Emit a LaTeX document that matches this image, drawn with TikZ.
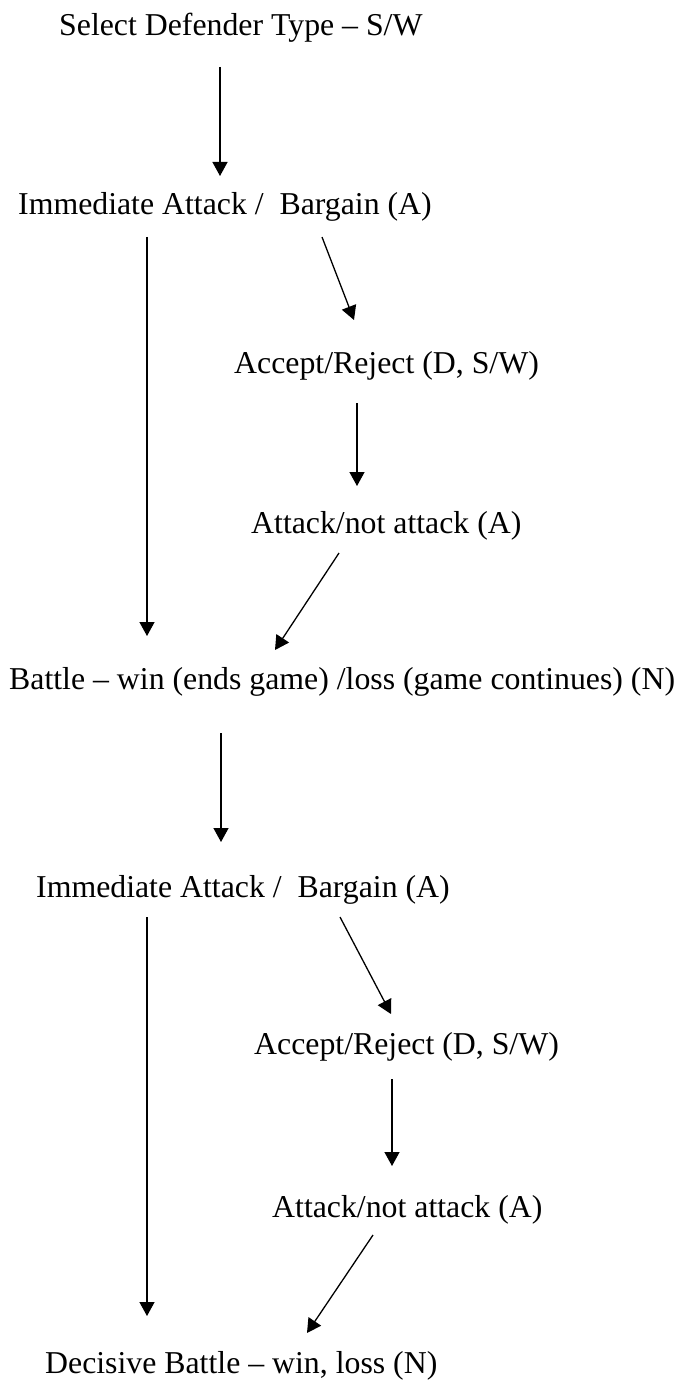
\documentclass[tikz,border=0pt]{standalone}
\usepackage{fontspec}
\setmainfont{Liberation Serif}
\usetikzlibrary{arrows.meta,calc}
\begin{document}
\begin{tikzpicture}[x=1pt,y=-1pt,
  lbl/.style={anchor=base west, inner sep=0pt, font=\fontsize{31.8}{38}\selectfont},
  arr/.style={line width=1.3pt, -{Triangle[length=14pt,width=15pt]}}]
\useasboundingbox[fill=white] (0,0) rectangle (685,1380);
% nodes
\node[lbl] (sel)  at (59,36)    {Select Defender Type – S/W};
\node[lbl] (imm1) at (18,215)   {Immediate Attack / \ Bargain (A)};
\node[lbl] (acc1) at (234,373)  {Accept/Reject (D, S/W)};
\node[lbl] (att1) at (251,533)  {Attack/not attack (A)};
\node[lbl] (bat)  at (9,689)    {Battle – win (ends game) /loss (game continues) (N)};
\node[lbl] (imm2) at (36,897)   {Immediate Attack / \ Bargain (A)};
\node[lbl] (acc2) at (254,1054) {Accept/Reject (D, S/W)};
\node[lbl] (att2) at (272,1217) {Attack/not attack (A)};
\node[lbl] (dec)  at (45,1373)  {Decisive Battle – win, loss (N)};
% connectors
\draw[arr] ($(sel.base west)+(161,31)$)  -- ($(imm1.base west)+(202,-39)$);
\draw[arr] ($(imm1.base west)+(129,22)$) -- ($(bat.base west)+(138,-53)$);
\draw[arr] ($(imm1.base west)+(304,22)$) -- ($(acc1.base west)+(120,-53)$);
\draw[arr] ($(acc1.base west)+(123,30)$) -- ($(att1.base west)+(106,-47)$);
\draw[arr] ($(att1.base west)+(88,20)$)  -- ($(bat.base west)+(266,-39)$);
\draw[arr] ($(bat.base west)+(212,44)$)  -- ($(imm2.base west)+(185,-55)$);
\draw[arr] ($(imm2.base west)+(111,20)$) -- ($(dec.base west)+(102,-57)$);
\draw[arr] ($(imm2.base west)+(304,20)$) -- ($(acc2.base west)+(137,-40)$);
\draw[arr] ($(acc2.base west)+(138,25)$) -- ($(att2.base west)+(120,-51)$);
\draw[arr] ($(att2.base west)+(101,18)$) -- ($(dec.base west)+(262,-40)$);
\end{tikzpicture}
\end{document}
